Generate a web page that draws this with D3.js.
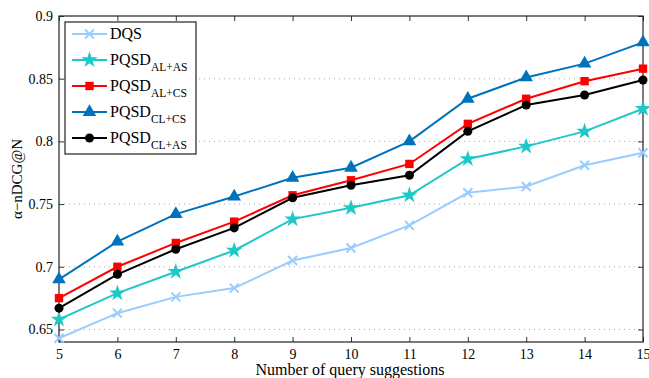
<!DOCTYPE html>
<html>
<head>
<meta charset="utf-8">
<script src="https://cdn.jsdelivr.net/npm/d3@7"></script>
<style>
  body { margin: 0; background: #fff; }
  text { font-family: "Liberation Serif", "DejaVu Serif", serif; fill: #000; }
</style>
</head>
<body>
<div id="chart"></div>
<script>
// data
var suggestions = [5, 6, 7, 8, 9, 10, 11, 12, 13, 14, 15];
var yTicks = [0.65, 0.7, 0.75, 0.8, 0.85, 0.9];

var dqs      = [0.643, 0.663, 0.676, 0.683, 0.705, 0.715, 0.733, 0.759, 0.764, 0.781, 0.791];
var pqsdAlAs = [0.658, 0.679, 0.696, 0.713, 0.738, 0.747, 0.757, 0.786, 0.796, 0.808, 0.826];
var pqsdAlCs = [0.675, 0.700, 0.719, 0.736, 0.757, 0.769, 0.782, 0.814, 0.834, 0.848, 0.858];
var pqsdClCs = [0.690, 0.720, 0.742, 0.756, 0.771, 0.779, 0.800, 0.834, 0.851, 0.862, 0.879];
var pqsdClAs = [0.667, 0.694, 0.714, 0.731, 0.755, 0.765, 0.773, 0.808, 0.829, 0.837, 0.849];

var seriesNames = ["DQS", "PQSD|AL+AS", "PQSD|AL+CS", "PQSD|CL+CS", "PQSD|CL+AS"];
var seriesValues = [dqs, pqsdAlAs, pqsdAlCs, pqsdClCs, pqsdClAs];
var seriesColors = ["#99ccff", "#1fc8c8", "#ff0000", "#0072bd", "#000000"];
var seriesMarkers = ["cross", "star", "square", "triangle", "circle"];

var svgWidth = 649;
var svgHeight = 378;
var margin = { top: 16, right: 6, bottom: 36, left: 59 };
var width = svgWidth - margin.left - margin.right;
var height = svgHeight - margin.top - margin.bottom;

var svg = d3.select("#chart")
  .append("svg")
  .attr("width", svgWidth)
  .attr("height", svgHeight);

var g = svg.append("g")
  .attr("transform", "translate(" + margin.left + "," + margin.top + ")");

var x = d3.scaleLinear().domain([5, 15]).range([0, width]);
var y = d3.scaleLinear().domain([0.64, 0.9]).range([height, 0]);

// dotted grid
g.selectAll(".grid")
  .data(yTicks.filter(function(d) { return d < 0.9; }))
  .enter()
  .append("line")
  .attr("x1", 0).attr("x2", width)
  .attr("y1", function(d) { return y(d); })
  .attr("y2", function(d) { return y(d); })
  .attr("stroke", "#aaa")
  .attr("stroke-width", 1)
  .attr("stroke-dasharray", "1,4");

// axes with inward ticks
g.append("g")
  .attr("transform", "translate(0," + height + ")")
  .call(d3.axisBottom(x).tickValues(suggestions).tickFormat(d3.format("d")).tickSizeInner(-5).tickSizeOuter(0).tickPadding(7));
g.append("g")
  .call(d3.axisLeft(y).tickValues(yTicks).tickFormat(function(d) { return d3.format("")(+d.toFixed(2)); }).tickSizeInner(-5).tickSizeOuter(0).tickPadding(6));
g.append("g")
  .call(d3.axisTop(x).tickValues(suggestions).tickFormat("").tickSizeInner(-5).tickSizeOuter(0));
g.append("g")
  .attr("transform", "translate(" + width + ",0)")
  .call(d3.axisRight(y).tickValues(yTicks).tickFormat("").tickSizeInner(-5).tickSizeOuter(0));

g.selectAll(".domain").remove();
g.selectAll(".tick line").attr("stroke", "#333");
g.selectAll(".tick text").style("font-size", "14px").style("font-family", "Liberation Serif");

g.append("rect")
  .attr("width", width).attr("height", height)
  .attr("fill", "none").attr("stroke", "#222").attr("stroke-width", 1.2);

// markers
function drawMarker(sel, type, color, size) {
  if (type === "cross") {
    sel.append("path")
      .attr("d", "M" + (-size) + "," + (-size) + "L" + size + "," + size + "M" + (-size) + "," + size + "L" + size + "," + (-size))
      .attr("stroke", color).attr("stroke-width", 2).attr("fill", "none");
  } else if (type === "circle") {
    sel.append("circle").attr("r", size).attr("fill", color);
  } else {
    var sym = { star: d3.symbolStar, square: d3.symbolSquare, triangle: d3.symbolTriangle }[type];
    var area = { star: 85, square: 70, triangle: 80 }[type];
    sel.append("path").attr("d", d3.symbol().type(sym).size(area)()).attr("fill", color);
  }
}

var line = d3.line()
  .x(function(d, i) { return x(suggestions[i]); })
  .y(function(d) { return y(d); });

seriesValues.forEach(function(vals, k) {
  g.append("path")
    .datum(vals)
    .attr("d", line)
    .attr("fill", "none")
    .attr("stroke", seriesColors[k])
    .attr("stroke-width", 2);

  g.selectAll(".m" + k)
    .data(vals)
    .enter()
    .append("g")
    .attr("transform", function(d, i) { return "translate(" + x(suggestions[i]) + "," + y(d) + ")"; })
    .each(function() {
      drawMarker(d3.select(this), seriesMarkers[k], seriesColors[k], 4.5);
    });
});

// legend
var legend = svg.append("g").attr("transform", "translate(65,22)");
legend.append("rect")
  .attr("width", 131).attr("height", 132)
  .attr("fill", "#fff").attr("stroke", "#222").attr("stroke-width", 1.2);

seriesNames.forEach(function(name, k) {
  var row = legend.append("g").attr("transform", "translate(0," + (12 + k * 26) + ")");
  row.append("line")
    .attr("x1", 7).attr("x2", 42)
    .attr("stroke", seriesColors[k]).attr("stroke-width", 2);
  var mk = row.append("g").attr("transform", "translate(24.5,0)");
  drawMarker(mk, seriesMarkers[k], seriesColors[k], 4.5);
  var parts = name.split("|");
  var t = row.append("text")
    .attr("x", 45).attr("y", 5)
    .style("font-size", "16px");
  t.append("tspan").text(parts[0]);
  if (parts[1]) {
    t.append("tspan").attr("dy", 6).style("font-size", "11.5px").text(parts[1]);
  }
});

// axis titles
svg.append("text")
  .attr("x", 350)
  .attr("y", 375)
  .attr("text-anchor", "middle")
  .style("font-size", "16px")
  .text("Number of query suggestions");

svg.append("text")
  .attr("transform", "translate(22,179) rotate(-90)")
  .attr("text-anchor", "middle")
  .style("font-size", "15px")
  .text("α−nDCG@N");
</script>
</body>
</html>
